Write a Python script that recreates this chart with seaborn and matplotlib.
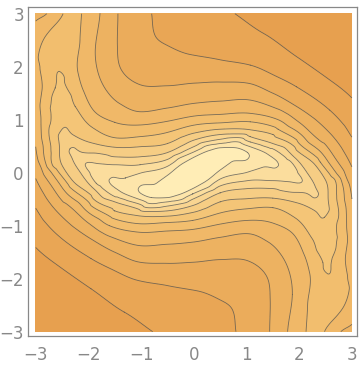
import numpy as np
import matplotlib
matplotlib.use("Agg")
import matplotlib.pyplot as plt
import matplotlib.tri as mtri
import seaborn as sns

# ---- contour lines: (x, y) points, each list lies on one level ----
level_values = [1, 2, 3, 4, 5, 6, 7, 8, 9, 10, 11]

A1 = [(0.78, 3.0), (1.32, 2.63), (1.95, 2.19), (2.58, 1.75), (3.0, 1.41)]
A2 = [(-0.78, -3.0), (-1.32, -2.63), (-1.95, -2.19), (-2.58, -1.75), (-3.0, -1.41)]

B1 = [(-0.8, 3.0), (-0.74, 2.6), (-0.5, 2.4), (-0.07, 2.23), (0.5, 2.13), (1.07, 2.03),
      (1.5, 1.85), (1.95, 1.62), (2.58, 1.18), (3.0, 0.67)]
B2 = [(0.8, -3.0), (0.74, -2.6), (0.5, -2.4), (0.07, -2.23), (-0.5, -2.13), (-1.07, -2.03),
      (-1.5, -1.85), (-1.95, -1.62), (-2.58, -1.18), (-3.0, -0.67)]

C1 = [(-1.44, 3.0), (-1.45, 2.4), (-1.38, 1.95), (-1.02, 1.66), (-0.5, 1.64), (0.02, 1.69),
      (0.5, 1.71), (1.07, 1.68), (1.5, 1.5), (1.95, 1.25), (2.58, 0.75), (3.0, 0.11)]
C2 = [(1.44, -3.0), (1.45, -2.4), (1.38, -1.95), (1.02, -1.66), (0.5, -1.64), (-0.02, -1.69),
      (-0.5, -1.71), (-1.07, -1.68), (-1.5, -1.5), (-1.95, -1.25), (-2.58, -0.75), (-3.0, -0.11)]

D1 = [(-1.78, 3.0), (-1.87, 2.3), (-1.82, 1.9), (-1.65, 1.54), (-1.4, 1.3), (-1.02, 1.15),
      (-0.5, 1.22), (0.02, 1.31), (0.5, 1.35), (1.07, 1.37), (1.6, 1.2), (2.0, 0.95),
      (2.4, 0.6), (2.7, 0.25), (2.9, -0.1), (3.0, -0.49)]
D2 = [(1.78, -3.0), (1.87, -2.3), (1.82, -1.9), (1.65, -1.54), (1.4, -1.3), (1.02, -1.15),
      (0.5, -1.22), (-0.02, -1.31), (-0.5, -1.35), (-1.07, -1.37), (-1.6, -1.2), (-2.0, -0.95),
      (-2.4, -0.6), (-2.7, -0.25), (-2.9, 0.1), (-3.0, 0.49)]
D3 = [(-3.0, 2.86), (-2.79, 3.0)]
D4 = [(3.0, -2.86), (2.79, -3.0)]

E1 = [(-2.13, 3.0), (-2.16, 2.49), (-2.2, 1.9), (-2.1, 1.56), (-1.88, 1.15), (-1.5, 0.95),
      (-1.02, 0.9), (-0.5, 0.97), (0.02, 1.07), (0.5, 1.1), (1.07, 1.12), (1.6, 1.0),
      (2.0, 0.75), (2.4, 0.4), (2.7, 0.0), (2.84, -0.3), (2.9, -1.0), (2.88, -1.56),
      (2.95, -2.2), (2.83, -2.55), (2.48, -3.0)]
E2 = [(2.13, -3.0), (2.16, -2.49), (2.2, -1.9), (2.1, -1.56), (1.88, -1.15), (1.5, -0.95),
      (1.02, -0.9), (0.5, -0.97), (-0.02, -1.07), (-0.5, -1.1), (-1.07, -1.12), (-1.6, -1.0),
      (-2.0, -0.75), (-2.4, -0.4), (-2.7, 0.0), (-2.84, 0.3), (-2.9, 1.0), (-2.88, 1.56),
      (-2.95, 2.2), (-2.83, 2.55), (-2.48, 3.0)]

F1 = [(-2.57, 1.91), (-2.45, 1.7), (-2.25, 1.25), (-1.92, 0.85), (-1.5, 0.66), (-1.02, 0.68),
      (-0.5, 0.76), (0.02, 0.9), (0.5, 0.94), (1.07, 0.96), (1.6, 0.82), (2.0, 0.55),
      (2.4, 0.2), (2.68, -0.14), (2.75, -0.8), (2.7, -1.4), (2.63, -1.6)]
F2 = [(2.57, -1.91), (2.45, -1.7), (2.25, -1.25), (1.92, -0.85), (1.5, -0.66), (1.02, -0.68),
      (0.5, -0.76), (-0.02, -0.9), (-0.5, -0.94), (-1.07, -0.96), (-1.6, -0.82), (-2.0, -0.55),
      (-2.4, -0.2), (-2.68, 0.14), (-2.75, 0.8), (-2.7, 1.4), (-2.63, 1.6)]

G1 = [(-2.48, 0.84), (-2.3, 0.72), (-2.0, 0.58), (-1.5, 0.48), (-1.02, 0.49), (-0.5, 0.55),
      (0.02, 0.75), (0.5, 0.82), (1.07, 0.81), (1.5, 0.72), (1.9, 0.5), (2.3, 0.15),
      (2.5, -0.14), (2.55, -0.5)]
G2 = [(2.48, -0.84), (2.3, -0.72), (2.0, -0.58), (1.5, -0.48), (1.02, -0.49), (0.5, -0.55),
      (-0.02, -0.75), (-0.5, -0.82), (-1.07, -0.81), (-1.5, -0.72), (-1.9, -0.5), (-2.3, -0.15),
      (-2.5, 0.14), (-2.55, 0.5)]

H1 = [(-2.35, 0.45), (-2.1, 0.38), (-1.5, 0.3), (-1.02, 0.3), (-0.5, 0.38), (0.02, 0.62),
      (0.5, 0.72), (1.07, 0.68), (1.5, 0.55), (1.9, 0.3), (2.15, 0.0), (2.3, -0.25)]
H2 = [(2.35, -0.45), (2.1, -0.38), (1.5, -0.3), (1.02, -0.3), (0.5, -0.38), (-0.02, -0.62),
      (-0.5, -0.72), (-1.07, -0.68), (-1.5, -0.55), (-1.9, -0.3), (-2.15, 0.0), (-2.3, 0.25)]

I1 = [(-2.06, 0.15), (-1.8, 0.17), (-1.5, 0.15), (-1.02, 0.15), (-0.5, 0.25), (0.02, 0.5),
      (0.5, 0.63), (1.07, 0.58), (1.5, 0.45), (1.85, 0.2)]
I2 = [(2.06, -0.15), (1.8, -0.17), (1.5, -0.15), (1.02, -0.15), (0.5, -0.25), (-0.02, -0.5),
      (-0.5, -0.63), (-1.07, -0.58), (-1.5, -0.45), (-1.85, -0.2)]

J1 = [(-1.59, -0.2), (-1.3, -0.1), (-1.02, -0.01), (-0.5, 0.12), (0.02, 0.4), (0.5, 0.55),
      (1.07, 0.49), (1.4, 0.35)]
J2 = [(1.59, 0.2), (1.3, 0.1), (1.02, 0.01), (0.5, -0.12), (-0.02, -0.4), (-0.5, -0.55),
      (-1.07, -0.49), (-1.4, -0.35)]

K1 = [(-1.02, -0.38), (-0.71, -0.2), (-0.5, -0.05), (-0.2, 0.18), (0.02, 0.3), (0.3, 0.42),
      (0.5, 0.47), (0.8, 0.47)]
K2 = [(1.02, 0.38), (0.71, 0.2), (0.5, 0.05), (0.2, -0.18), (-0.02, -0.3), (-0.3, -0.42),
      (-0.5, -0.47), (-0.8, -0.47)]

# peaks, ridge points, corners and edge points: (x, y, value)
extra_points = [
    (0.0, 0.0, 11.6), (-0.45, -0.26, 11.6), (0.45, 0.26, 11.6),
    (-1.3, -0.3, 10.5), (-1.85, -0.02, 9.5), (-2.22, 0.3, 8.5), (-2.43, 0.65, 7.5),
    (-2.55, 1.4, 6.5), (-2.54, 1.78, 6.2), (-2.5, 2.4, 5.6), (-2.3, 3.0, 5.4),
    (1.3, 0.3, 10.5), (1.85, 0.02, 9.5), (2.22, -0.3, 8.5), (2.43, -0.65, 7.5),
    (2.55, -1.4, 6.5), (2.54, -1.78, 6.2), (2.5, -2.4, 5.6), (2.3, -3.0, 5.4),
    (-3.0, 3.0, 3.7), (3.0, 3.0, 0.2), (3.0, -3.0, 3.7), (-3.0, -3.0, 0.2),
    (0.0, 3.0, 1.5), (2.0, 3.0, 0.45), (0.0, -3.0, 1.5), (-2.0, -3.0, 0.45),
    (-3.0, 2.0, 4.7), (-3.0, 1.2, 4.6), (-3.0, 0.2, 3.6), (-3.0, -1.0, 1.5), (-3.0, -2.2, 0.5),
    (3.0, -2.0, 4.7), (3.0, -1.2, 4.6), (3.0, -0.2, 3.6), (3.0, 1.0, 1.5), (3.0, 2.2, 0.5),
    (2.3, 2.6, 0.5), (-2.3, -2.6, 0.5),
]

tick_vals = [-3, -2, -1, 0, 1, 2, 3]

contours_by_level = [
    (level_values[0], [A1, A2]),
    (level_values[1], [B1, B2]),
    (level_values[2], [C1, C2]),
    (level_values[3], [D1, D2, D3, D4]),
    (level_values[4], [E1, E2]),
    (level_values[5], [F1, F2]),
    (level_values[6], [G1, G2]),
    (level_values[7], [H1, H2]),
    (level_values[8], [I1, I2]),
    (level_values[9], [J1, J2]),
    (level_values[10], [K1, K2]),
]

px, py, pz = [], [], []
for lev, paths in contours_by_level:
    for path in paths:
        for (x, y) in path:
            px.append(x); py.append(y); pz.append(lev)
for (x, y, v) in extra_points:
    px.append(x); py.append(y); pz.append(v)
px, py, pz = np.array(px), np.array(py), np.array(pz, dtype=float)

sns.set_style("white")
plt.rcParams['font.family'] = ['DejaVu Sans']

fig = plt.figure(figsize=(3.6, 3.68), dpi=100)
ax = fig.add_axes([28 / 360, (368 - 336) / 368, 329 / 360, 329 / 368])

tri = mtri.Triangulation(px, py)
refiner = mtri.UniformTriRefiner(tri)
interp = mtri.CubicTriInterpolator(tri, pz, kind="geom")
tri_f, z_f = refiner.refine_field(pz, triinterpolator=interp, subdiv=4)

band_colors = sns.blend_palette(["#E7A04F", "#F3C171", "#FFEDB6"], n_colors=len(level_values) + 1)
fill_levels = [-10] + level_values + [20]
ax.tricontourf(tri_f, z_f, levels=fill_levels, colors=band_colors)
ax.tricontour(tri_f, z_f, levels=level_values, colors="#4d4d4d", linewidths=0.6, alpha=0.75)

ax.set_xlim(-3.146, 3.097)
ax.set_ylim(-3.081, 3.126)
ax.set_xticks(tick_vals)
ax.set_yticks(tick_vals)
ax.set_xticklabels([f"{v}".replace("-", "\u2212") for v in tick_vals])
ax.set_yticklabels([f"{v}".replace("-", "\u2212") for v in tick_vals])
ax.tick_params(direction="in", length=4, width=0.8, colors="#888888", labelcolor="#888888",
               labelsize=12, top=False, right=False)
ax.tick_params(axis="x", pad=7)
ax.tick_params(axis="y", pad=3)
for s in ax.spines.values():
    s.set_color("#888888")
    s.set_linewidth(0.9)

fig.savefig("out.png", dpi=100)
